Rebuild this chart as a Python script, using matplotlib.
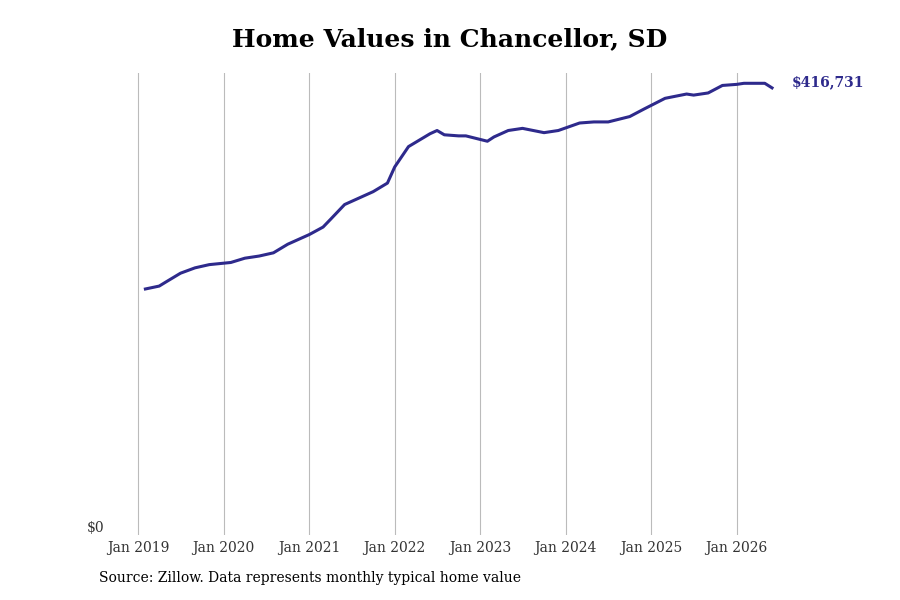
import pandas as pd
import matplotlib.pyplot as plt
import matplotlib.dates as mdates

dates = ["2019-02", "2019-04", "2019-05", "2019-07", "2019-09", "2019-11", "2020-02", "2020-04",
         "2020-06", "2020-08", "2020-10", "2021-01", "2021-03", "2021-04", "2021-06", "2021-08",
         "2021-10", "2021-12", "2022-01", "2022-03", "2022-06", "2022-07", "2022-08", "2022-10",
         "2022-11", "2023-02", "2023-03", "2023-05", "2023-07", "2023-10", "2023-12", "2024-03",
         "2024-05", "2024-07", "2024-10", "2024-12", "2025-03", "2025-06", "2025-07", "2025-09",
         "2025-11", "2026-01", "2026-02", "2026-05", "2026-06"]
values = [229300, 232000, 236000, 244000, 249000, 252000, 254000, 258000,
          260000, 263000, 271000, 280000, 287000, 294000, 308000, 314000,
          320000, 328000, 343000, 362000, 374000, 377000, 373000, 372000,
          372000, 367000, 371000, 377000, 379000, 375000, 377000, 384000,
          385000, 385000, 390000, 397000, 407000, 411000, 410000, 412000,
          419000, 420000, 421000, 421000, 416731]
x = pd.to_datetime(dates)
color = "#2e2a8c"

plt.rcParams['font.family'] = ['DejaVu Serif']
fig = plt.figure(figsize=(9, 6), dpi=100)
ax = fig.add_axes([118/900, 65/600, 662/900, 462/600])
ax.plot(x, values, color=color, lw=2.2)
ax.set_ylim(0, 430600)
ax.set_xlim(pd.Timestamp("2018-10-07"), pd.Timestamp("2026-07-05"))
ax.set_yticks([0])
ax.set_yticklabels(["$0"], fontsize=10, color="#333333")
ax.xaxis.set_major_locator(mdates.YearLocator())
ax.xaxis.set_major_formatter(mdates.DateFormatter("Jan %Y"))
ax.tick_params(axis='x', labelsize=10, colors="#333333", length=0, pad=4)
ax.tick_params(axis='y', length=0, pad=10)
for t in ax.get_yticklabels():
    t.set_verticalalignment('bottom')
ax.grid(axis='x', color="#bbbbbb", lw=0.8)
for s in ax.spines.values():
    s.set_visible(False)
ax.annotate(f"${values[-1]:,}", (x[-1], values[-1]), xytext=(14, 4), textcoords='offset points',
            color=color, fontsize=10, fontweight='bold', va='center')
fig.suptitle("Home Values in Chancellor, SD", y=0.955, fontsize=18, fontweight='bold')
fig.text(99/900, 18/600, "Source: Zillow. Data represents monthly typical home value", fontsize=10)
fig.savefig("out.png")
